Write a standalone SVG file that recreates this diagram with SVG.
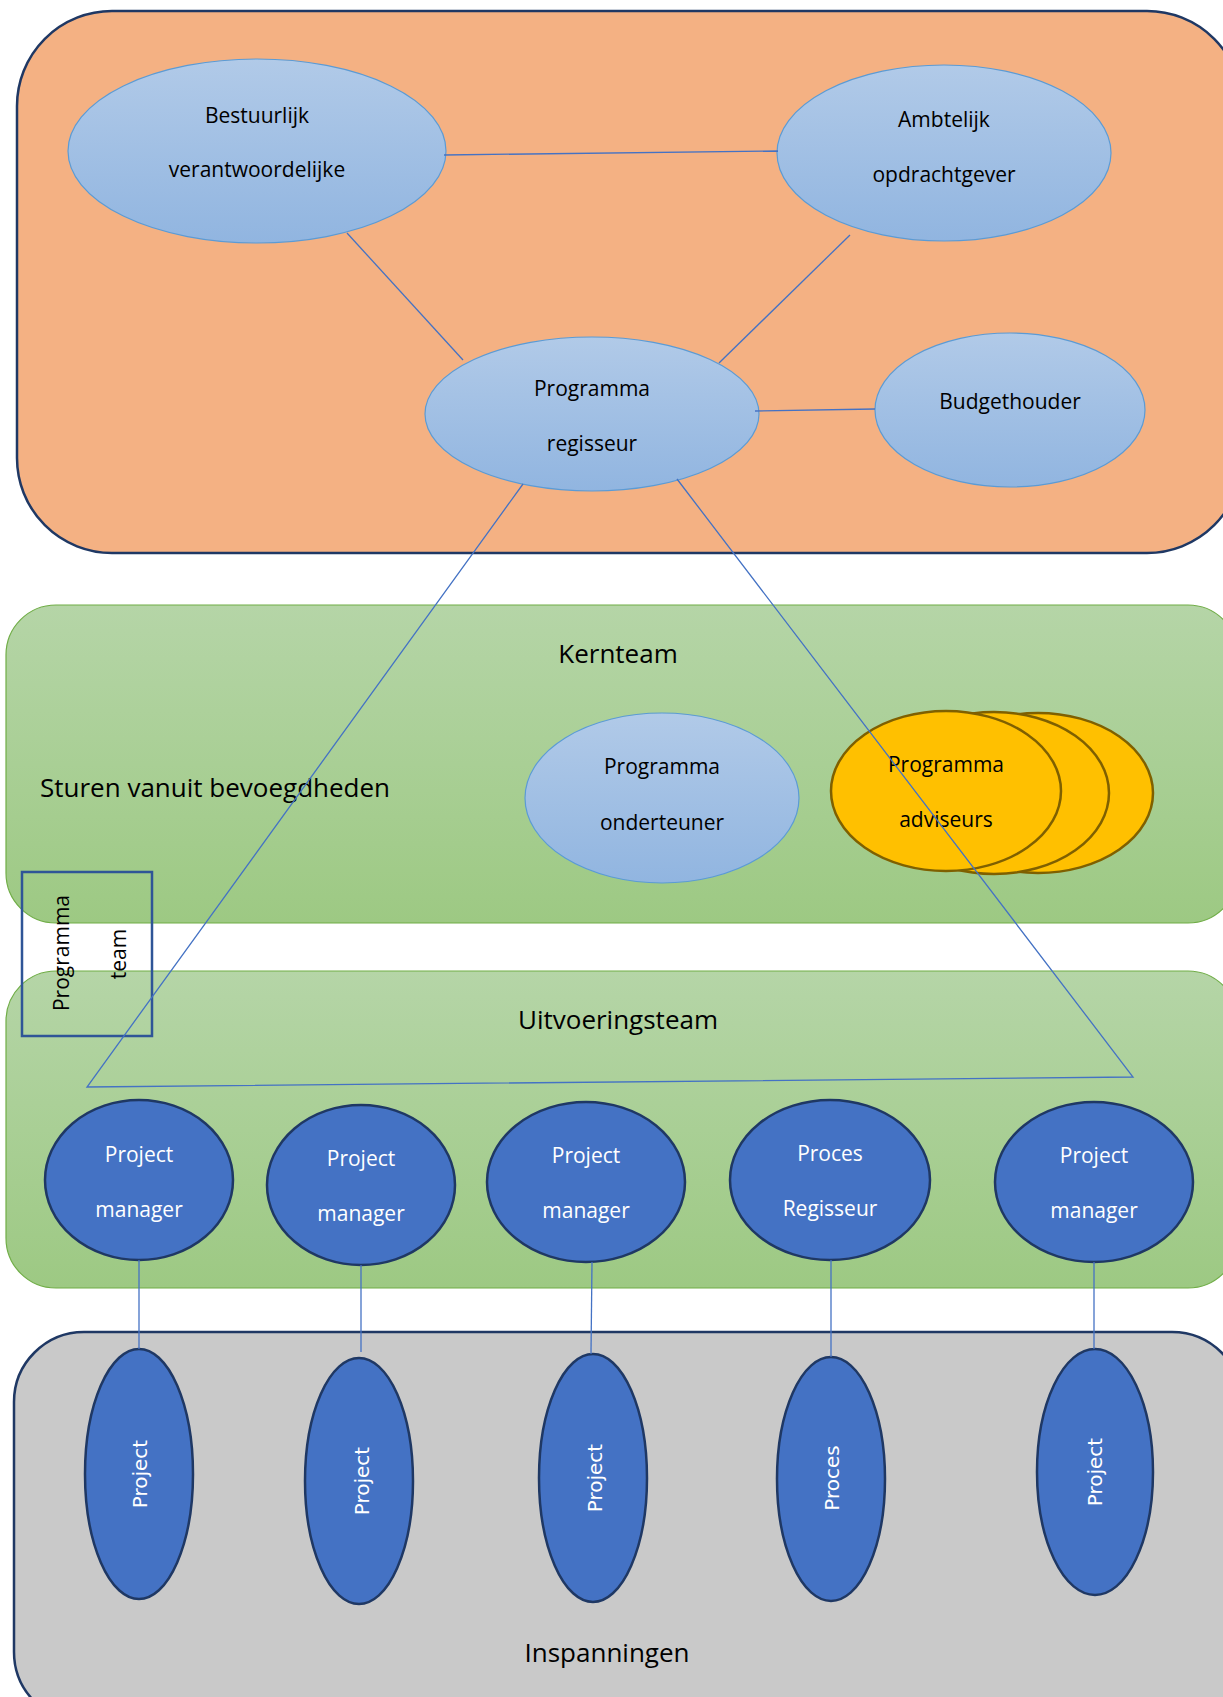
<svg xmlns="http://www.w3.org/2000/svg" width="1223" height="1697" viewBox="0 0 1223 1697">
<defs>
<linearGradient id="gBlue" x1="0" y1="0" x2="0" y2="1">
<stop offset="0" stop-color="#b1cae8"/>
<stop offset="1" stop-color="#91b5e0"/>
</linearGradient>
<linearGradient id="gGreen" x1="0" y1="0" x2="0" y2="1">
<stop offset="0" stop-color="#b5d5a7"/>
<stop offset="1" stop-color="#9dc983"/>
</linearGradient>
<style>
.lb{fill:url(#gBlue);stroke:#5b9bd5;stroke-width:1.2}
.db{fill:#4472c4;stroke:#1f3864;stroke-width:2.5}
.ad{fill:#ffc000;stroke:#7f6000;stroke-width:2.5}
.grn{fill:url(#gGreen);stroke:#70ad47;stroke-width:1.2}
.t{font-family:"Open Sans","Liberation Sans",sans-serif;font-size:21px;fill:#000;text-anchor:middle}
.tw{font-family:"Open Sans","Liberation Sans",sans-serif;font-size:21px;fill:#fff;text-anchor:middle}
.tl{font-family:"Open Sans","Liberation Sans",sans-serif;font-size:26px;fill:#000;text-anchor:middle}
.tv{font-family:"DejaVu Sans","Liberation Sans",sans-serif;font-size:20px;fill:#fff;text-anchor:middle}
.c{stroke:#4472c4;stroke-width:1.3;fill:none}
</style>
</defs>

<g id="bestuur-zone">
<rect x="17" y="11" width="1225" height="542" rx="95" ry="95" fill="#f4b183" stroke="#1f3864" stroke-width="2.5"/>
</g>
<g id="kernteam-zone">
<rect x="6" y="605" width="1232" height="318" rx="50" ry="50" class="grn"/>
<text class="tl" x="618" y="663">Kernteam</text>
<text class="tl" x="40" y="797" text-anchor="start" style="text-anchor:start">Sturen vanuit bevoegdheden</text>
</g>
<g id="uitvoeringsteam-zone">
<rect x="6" y="971" width="1232" height="317" rx="50" ry="50" class="grn"/>
<text class="tl" x="618" y="1029">Uitvoeringsteam</text>
</g>
<g id="inspanningen-zone">
<rect x="14" y="1332" width="1228" height="390" rx="70" ry="70" fill="#c9c9c9" stroke="#1f3864" stroke-width="2.5"/>
<text class="tl" x="607" y="1662">Inspanningen</text>
</g>

<g id="programma-team">
<rect x="22" y="872" width="130" height="164" fill="none" stroke="#2f5597" stroke-width="2.5"/>
<text class="t" transform="translate(62,953) rotate(-90)" x="0" y="7">Programma</text>
<text class="t" transform="translate(119,954) rotate(-90)" x="0" y="7">team</text>
</g>

<g id="bestuurlijk">
<ellipse cx="257" cy="151" rx="189" ry="92" class="lb"/>
<text class="t" x="257" y="123">Bestuurlijk</text>
<text class="t" x="257" y="177">verantwoordelijke</text>
</g>
<g id="ambtelijk">
<ellipse cx="944" cy="153" rx="167" ry="88" class="lb"/>
<text class="t" x="944" y="127">Ambtelijk</text>
<text class="t" x="944" y="182">opdrachtgever</text>
</g>
<g id="regisseur">
<ellipse cx="592" cy="414" rx="167" ry="77" class="lb"/>
<text class="t" x="592" y="396">Programma</text>
<text class="t" x="592" y="451">regisseur</text>
</g>
<g id="budgethouder">
<ellipse cx="1010" cy="410" rx="135" ry="77" class="lb"/>
<text class="t" x="1010" y="409">Budgethouder</text>
</g>
<g id="onderteuner">
<ellipse cx="662" cy="798" rx="137" ry="85" class="lb"/>
<text class="t" x="662" y="774">Programma</text>
<text class="t" x="662" y="830">onderteuner</text>
</g>
<g id="adviseurs">
<ellipse cx="1038" cy="793" rx="115" ry="80" class="ad"/>
<ellipse cx="994" cy="793" rx="115" ry="81" class="ad"/>
<ellipse cx="946" cy="791" rx="115" ry="80" class="ad"/>
<text class="t" x="946" y="772">Programma</text>
<text class="t" x="946" y="827">adviseurs</text>
</g>

<g id="pm1">
<ellipse cx="139" cy="1180" rx="94" ry="80" class="db"/>
<text class="tw" x="139" y="1162">Project</text>
<text class="tw" x="139" y="1217">manager</text>
</g>
<g id="pm2">
<ellipse cx="361" cy="1185" rx="94" ry="80" class="db"/>
<text class="tw" x="361" y="1166">Project</text>
<text class="tw" x="361" y="1221">manager</text>
</g>
<g id="pm3">
<ellipse cx="586" cy="1182" rx="99" ry="80" class="db"/>
<text class="tw" x="586" y="1163">Project</text>
<text class="tw" x="586" y="1218">manager</text>
</g>
<g id="procesregisseur">
<ellipse cx="830" cy="1180" rx="100" ry="80" class="db"/>
<text class="tw" x="830" y="1161">Proces</text>
<text class="tw" x="830" y="1216">Regisseur</text>
</g>
<g id="pm5">
<ellipse cx="1094" cy="1182" rx="99" ry="80" class="db"/>
<text class="tw" x="1094" y="1163">Project</text>
<text class="tw" x="1094" y="1218">manager</text>
</g>

<g id="project1">
<ellipse cx="139" cy="1474" rx="54" ry="125" class="db"/>
<text class="tv" transform="translate(140,1474) rotate(-90)" x="0" y="7">Project</text>
</g>
<g id="project2">
<ellipse cx="359" cy="1481" rx="54" ry="123" class="db"/>
<text class="tv" transform="translate(362,1481) rotate(-90)" x="0" y="7">Project</text>
</g>
<g id="project3">
<ellipse cx="593" cy="1478" rx="54" ry="124" class="db"/>
<text class="tv" transform="translate(595,1478) rotate(-90)" x="0" y="7">Project</text>
</g>
<g id="proces">
<ellipse cx="831" cy="1479" rx="54" ry="122" class="db"/>
<text class="tv" transform="translate(832,1478) rotate(-90)" x="0" y="7">Proces</text>
</g>
<g id="project5">
<ellipse cx="1095" cy="1472" rx="58" ry="123" class="db"/>
<text class="tv" transform="translate(1095,1472) rotate(-90)" x="0" y="7">Project</text>
</g>

<g id="connectors">
<line class="c" x1="444" y1="155" x2="778" y2="151" stroke-width="2"/>
<line class="c" x1="347" y1="233" x2="463" y2="360"/>
<line class="c" x1="850" y1="235" x2="719" y2="363"/>
<line class="c" x1="755" y1="411" x2="875" y2="409" stroke-width="2"/>
<polyline class="c" points="523,484 87,1087 1133,1077 677,479"/>
<line class="c" x1="139" y1="1260" x2="139" y2="1349"/>
<line class="c" x1="361" y1="1265" x2="361" y2="1352"/>
<line class="c" x1="592" y1="1262" x2="591" y2="1354"/>
<line class="c" x1="831" y1="1260" x2="831" y2="1357"/>
<line class="c" x1="1094" y1="1262" x2="1094" y2="1349"/>
</g>
</svg>
